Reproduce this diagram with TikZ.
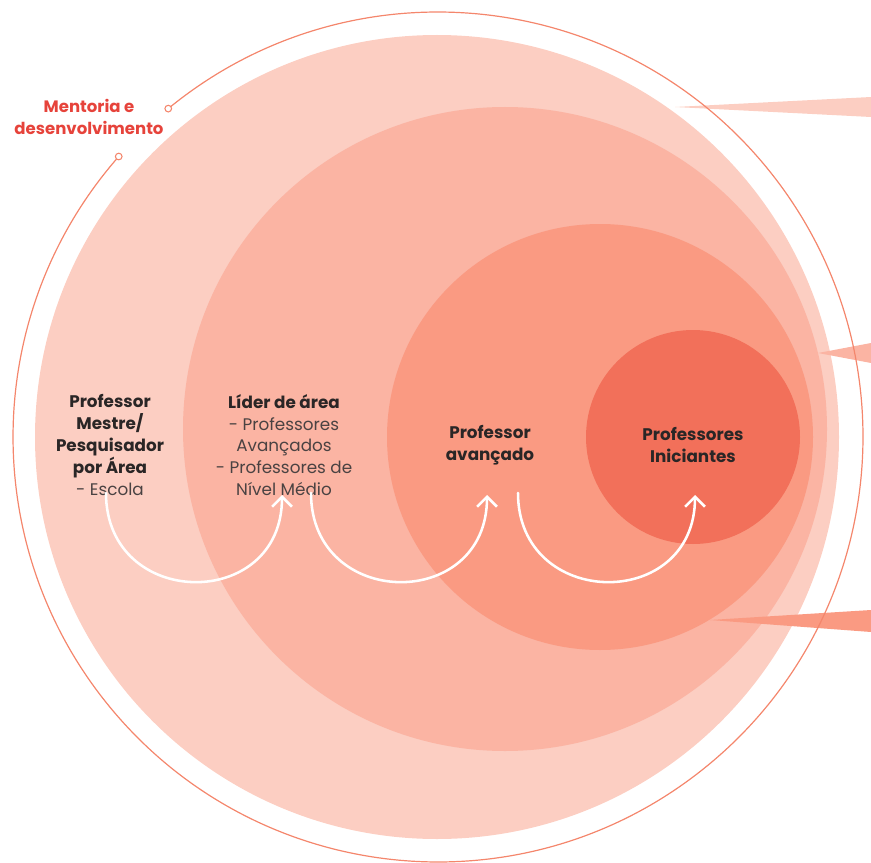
\documentclass[tikz,border=0pt]{standalone}
\usepackage{fontspec}
\setmainfont{Poppins}
\usepackage{tikz}
\usetikzlibrary{arrows.meta}
\definecolor{rosa1}{HTML}{FCCEC2}
\definecolor{rosa2}{HTML}{FBB4A3}
\definecolor{rosa3}{HTML}{FA9A82}
\definecolor{rosa4}{HTML}{F2705A}
\definecolor{laranja}{HTML}{F4866C}
\definecolor{vermelho}{HTML}{E6433B}
\definecolor{texto}{HTML}{2A2626}
\definecolor{cinza}{HTML}{4A4242}
\tikzset{
  %Define style for the role texts
  papel/.style={
    align=center,
    text=texto,
    inner sep=0pt,
    font=\fontsize{12.6}{16.4}\selectfont\bfseries},
  %Define style for the side title
  titulo/.style={
    align=center,
    text=vermelho,
    inner sep=0pt,
    font=\fontsize{12.4}{17}\selectfont\bfseries},
  % Define style for the outer ring
  anel/.style={
    draw=laranja,
    line width=0.9pt},
  ponto/.style={
    circle,
    draw=laranja,
    fill=white,
    line width=0.8pt,
    inner sep=0pt,
    minimum size=5pt},
  % Define arrow style
  seta/.style={
    -{Straight Barb[angle=90:10.5pt]},
    draw=white,
    line width=1.9pt,
    line cap=round}
}
\newcommand{\detalhe}[1]{{\mdseries\color{cinza}#1}}

\begin{document}
\begin{tikzpicture}[x=0.75pt,y=-0.75pt]
  \useasboundingbox (0,0) rectangle (871,863);
  % circles
  \fill[rosa1] (437,437) circle[radius=402];
  \fill[rosa1] (675,107) -- (871,97) -- (871,117) -- cycle;
  \fill[rosa2] (505,429) circle[radius=322];
  \fill[rosa2] (818,353) -- (871,343) -- (871,363) -- cycle;
  \fill[rosa3] (600,437) circle[radius=213];
  \fill[rosa3] (710,620) -- (871,610) -- (871,632) -- cycle;
  \fill[rosa4] (693,437) circle[radius=107];
  % outer ring with gap
  \coordinate (c0) at (438,437);
  \path (c0) ++(-129.4:425) coordinate (p1);
  \path (c0) ++(-138.7:425) coordinate (p2);
  \draw[anel] (p1) arc[start angle=-129.4, end angle=221.3, radius=425];
  \node[ponto] (d1) at (p1) {};
  \node[ponto] (d2) at (p2) {};
  \node[titulo] (mentoria) at (89,117) {Mentoria e\\desenvolvimento};
  % roles
  \node[papel] (mestre) at (110,445) {Professor\\Mestre/\\Pesquisador\\por Área\\\detalhe{- Escola}};
  \node[papel] (lider) at (284,445) {Líder de área\\\detalhe{- Professores}\\\detalhe{Avançados}\\\detalhe{- Professores de}\\\detalhe{Nível Médio}};
  \node[papel] (avancado) at (490,445) {Professor\\avançado};
  \node[papel] (iniciantes) at (693,445) {Professores\\Iniciantes};
  % arrows
  \coordinate (s1) at (106,493);
  \coordinate (e1) at (282,495);
  \coordinate (s2) at (311,493);
  \coordinate (e2) at (487,495);
  \coordinate (s3) at (518,493);
  \coordinate (e3) at (695,495);
  \draw[seta] (s1) .. controls +(0,117) and +(0,117) .. (e1);
  \draw[seta] (s2) .. controls +(0,117) and +(0,117) .. (e2);
  \draw[seta] (s3) .. controls +(0,117) and +(0,117) .. (e3);
\end{tikzpicture}
\end{document}
